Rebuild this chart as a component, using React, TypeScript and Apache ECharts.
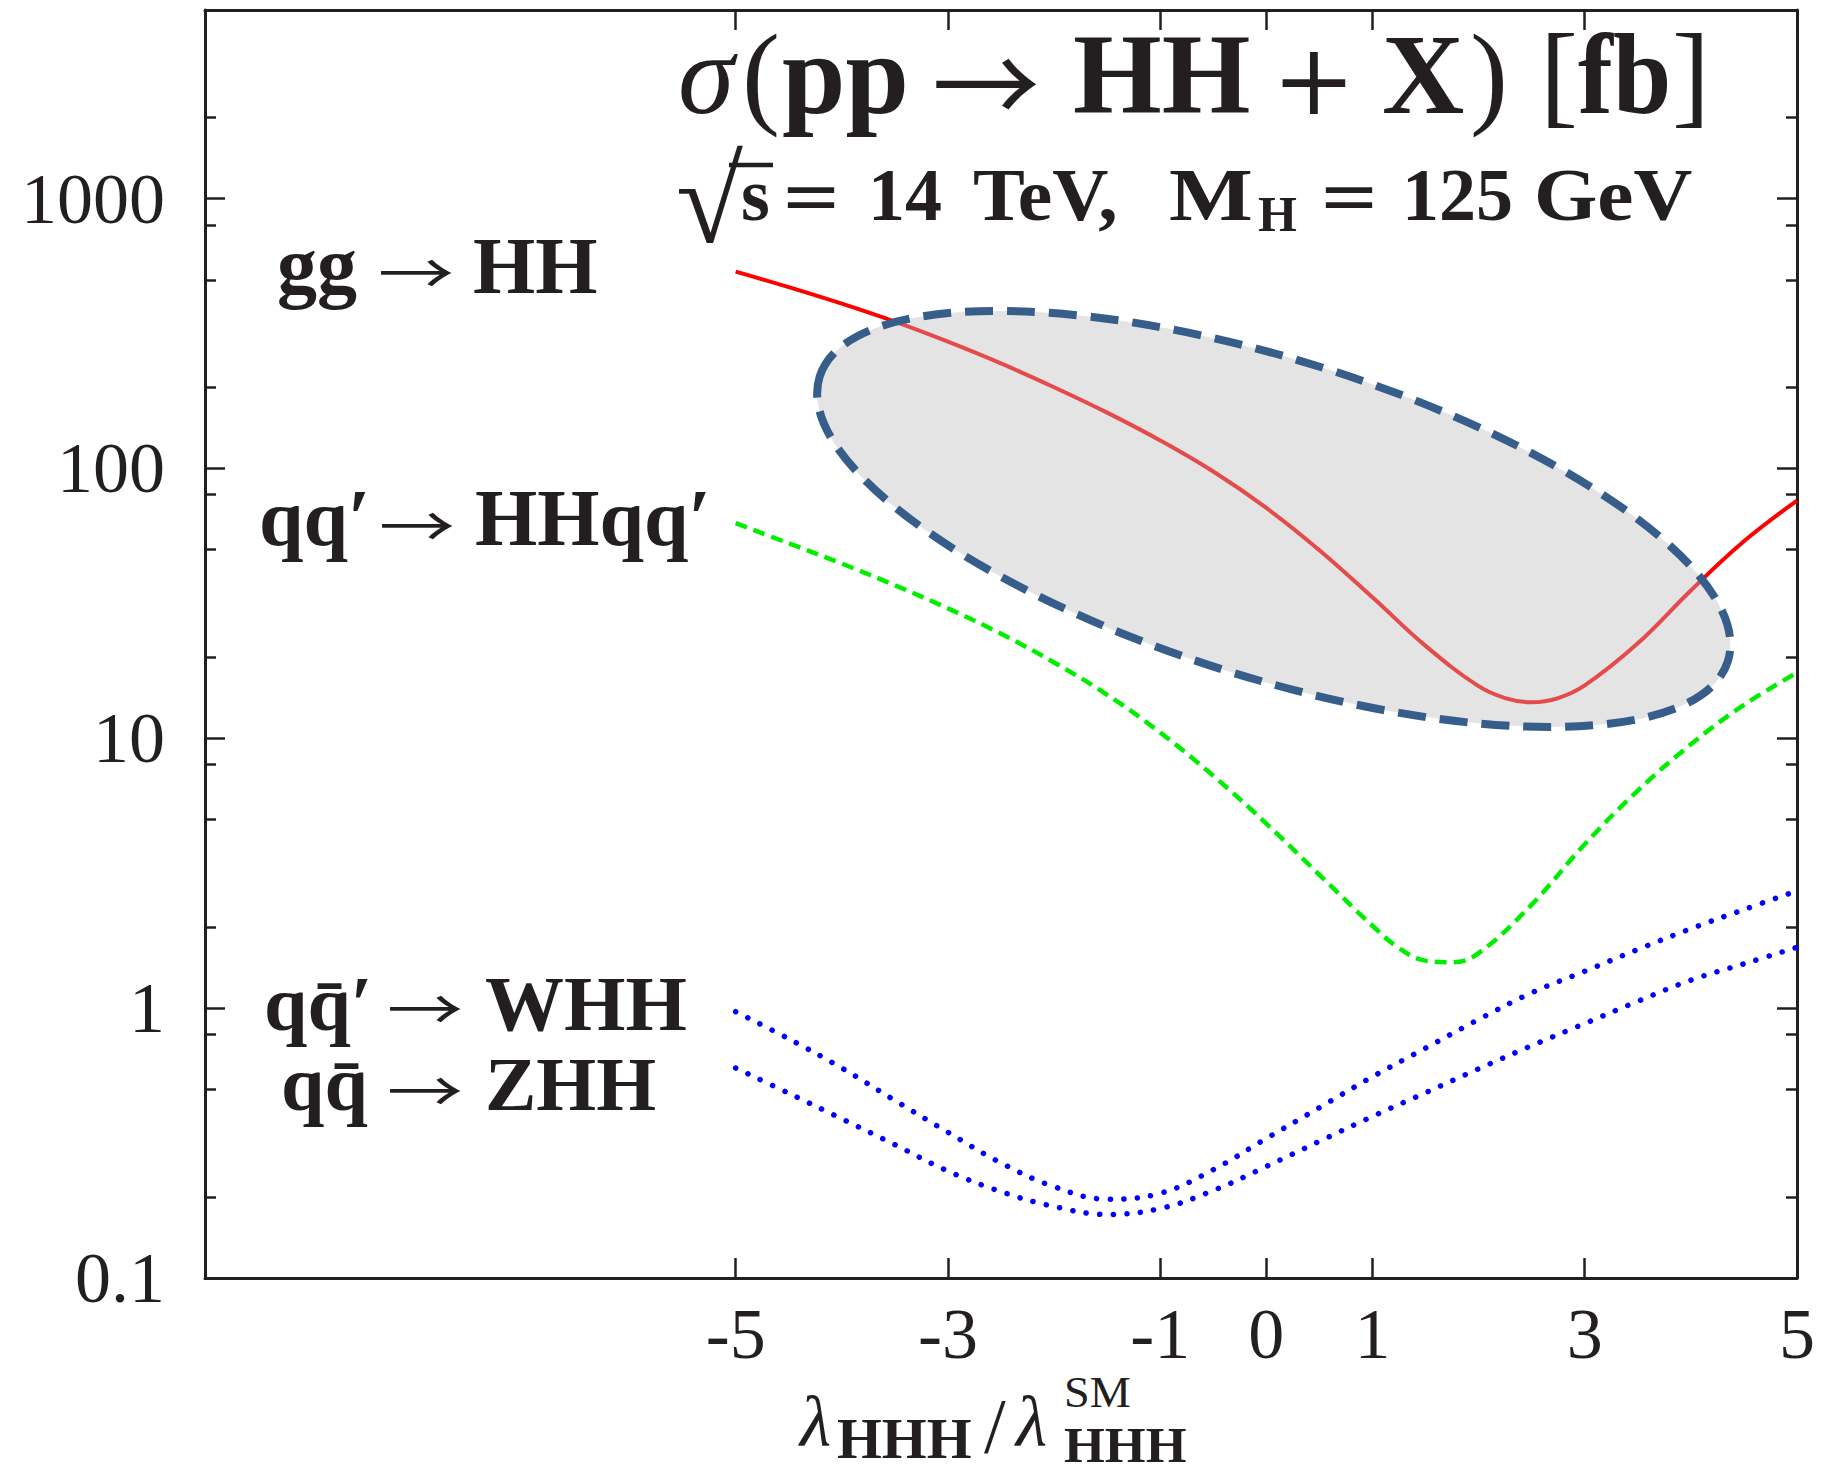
import React, { useEffect, useRef } from 'react';
import * as echarts from 'echarts';

const SERIF = "'Liberation Serif', 'DejaVu Serif', serif";
const SERIF_WIDE = "'DejaVu Serif', serif";
const CJK = "'Noto Sans CJK JP', 'Noto Sans CJK SC', sans-serif";
const INK = '#231f20';

// ---------- axes ----------
const xMin = -10;
const xMax = 5;
const yMin = 0.1;
const yMax = 5000;
const xTickValues = [-5, -3, -1, 0, 1, 3, 5];
const xTickLabels = ['-5', '-3', '-1', '0', '1', '3', '5'];
const yMajorValues = [0.1, 1, 10, 100, 1000];
const yTickLabels = ['0.1', '1', '10', '100', '1000'];
const yMinorValues = [0.2, 0.5, 0.8, 2, 5, 8, 20, 50, 80, 200, 500, 800, 2000, 5000];

// ---------- series (lambda_HHH / lambda_SM , sigma [fb]) ----------
const ggLambda = [-5, -4.5, -4, -3.5, -3, -2.5, -2, -1.5, -1, -0.5, 0, 0.5, 1, 1.5, 2, 2.25, 2.5, 2.75, 3, 3.5, 4, 4.5, 5];
const ggSigma = [536, 470, 408, 350, 295, 245, 200, 161, 127, 97.4, 71.4, 49.8, 33.3, 22.0, 15.6, 14.1, 13.6, 14.1, 15.7, 22.5, 35.3, 53.7, 76];

const vbfLambda = [-5, -4.5, -4, -3.5, -3, -2.5, -2, -1.5, -1, -0.5, 0, 0.5, 1, 1.25, 1.5, 1.75, 2, 2.5, 3, 3.5, 4, 4.5, 5];
const vbfSigma = [62.7, 52.8, 44.4, 36.9, 30.3, 24.4, 19.1, 14.5, 10.5, 7.26, 4.83, 3.12, 2.02, 1.67, 1.5, 1.48, 1.6, 2.42, 4.05, 6.4, 9.5, 13.3, 17.5];

const vhLambda = [-5, -4.5, -4, -3.5, -3, -2.5, -2, -1.5, -1, -0.5, 0, 0.5, 1, 1.5, 2, 2.5, 3, 3.5, 4, 4.5, 5];
const whhSigma = [0.97, 0.77, 0.6, 0.455, 0.347, 0.267, 0.218, 0.196, 0.206, 0.252, 0.329, 0.428, 0.557, 0.711, 0.908, 1.14, 1.37, 1.65, 1.97, 2.32, 2.72];
const zhhSigma = [0.6, 0.484, 0.389, 0.312, 0.249, 0.209, 0.184, 0.172, 0.181, 0.211, 0.259, 0.321, 0.397, 0.486, 0.596, 0.726, 0.877, 1.06, 1.27, 1.46, 1.68];

// highlighted region (centre in data coordinates)
const ellipseCenter = [0.07, 65];

const pairs = (xs: number[], ys: number[]) => xs.map((x, i) => [x, ys[i]]);
const near = (arr: number[], v: number) => arr.findIndex((a) => Math.abs(a - v) < 1e-6);

type Piece = {
  t: string;
  x: number;
  size: number;
  base?: number; // alphabetic baseline
  cy?: number; // explicit y of the element (central line)
  bold?: boolean;
  italic?: boolean;
  font?: string;
  sx?: number;
};

const textEl = (p: Piece, id: string) => ({
  type: 'text',
  id,
  x: p.x,
  y: p.cy !== undefined ? p.cy : (p.base as number) - 0.3375 * p.size,
  scaleX: p.sx || 1,
  z: 30,
  silent: true,
  style: {
    text: p.t,
    fontFamily: p.font || SERIF,
    fontSize: p.size,
    lineHeight: Math.round(p.size * 0.8),
    fontWeight: p.bold ? 'bold' : 'normal',
    fontStyle: p.italic ? 'italic' : 'normal',
    fill: INK,
    align: 'left',
    verticalAlign: 'middle',
  },
});

const titlePieces: Piece[] = [
  { t: 'σ', x: 678, base: 113, size: 114, italic: true },
  { t: '(', x: 742, base: 113, size: 114 },
  { t: 'pp', x: 782, base: 113, size: 114, bold: true },
  { t: '→', x: 932, cy: 78, size: 108, font: CJK },
  { t: 'HH', x: 1073, base: 113, size: 114, bold: true },
  { t: '+', x: 1272, base: 113, size: 100, font: SERIF_WIDE },
  { t: 'X', x: 1382, base: 113, size: 114, bold: true },
  { t: ')', x: 1470, base: 113, size: 114 },
  { t: '[', x: 1540, base: 113, size: 114 },
  { t: 'fb', x: 1578, base: 113, size: 114, bold: true, sx: 0.92 },
  { t: ']', x: 1672, base: 113, size: 114 },
];

const subtitlePieces: Piece[] = [
  { t: '√', x: 676, cy: 200, size: 122 },
  { t: 's', x: 741, base: 220, size: 74, bold: true },
  { t: '=', x: 780, base: 220, size: 74, font: SERIF_WIDE },
  { t: '14', x: 868, base: 220, size: 74, bold: true },
  { t: 'TeV,', x: 973, base: 220, size: 74, bold: true, sx: 1.05 },
  { t: 'M', x: 1169, base: 220, size: 74, bold: true, sx: 1.2 },
  { t: 'H', x: 1258, base: 231, size: 50, bold: true },
  { t: '=', x: 1318, base: 220, size: 74, font: SERIF_WIDE },
  { t: '125', x: 1402, base: 220, size: 74, bold: true },
  { t: 'GeV', x: 1534, base: 220, size: 74, bold: true, sx: 1.1 },
];

const ARROW = 56;
const ARROW_SX = 1.36;
const labelPieces: Piece[] = [
  { t: 'gg', x: 277, base: 293, size: 80, bold: true },
  { t: '→', x: 378, cy: 269, size: ARROW, font: CJK, sx: ARROW_SX },
  { t: 'HH', x: 473, base: 293, size: 80, bold: true },
  { t: 'qq′', x: 259, base: 545, size: 80, bold: true },
  { t: '→', x: 379, cy: 522, size: ARROW, font: CJK, sx: ARROW_SX },
  { t: 'HHqq′', x: 475, base: 545, size: 80, bold: true },
  { t: 'qq̄′', x: 264, base: 1030, size: 78, bold: true },
  { t: '→', x: 387, cy: 1005, size: ARROW, font: CJK, sx: ARROW_SX },
  { t: 'WHH', x: 485, base: 1030, size: 79, bold: true },
  { t: 'qq̄', x: 281, base: 1110, size: 78, bold: true },
  { t: '→', x: 387, cy: 1087, size: ARROW, font: CJK, sx: ARROW_SX },
  { t: 'ZHH', x: 485, base: 1110, size: 77, bold: true },
];

const axisTitlePieces: Piece[] = [
  { t: 'λ', x: 800, base: 1446, size: 72, italic: true },
  { t: 'HHH', x: 837, base: 1458, size: 56, bold: true, sx: 1.03 },
  { t: '/', x: 984, base: 1452, size: 78 },
  { t: 'λ', x: 1016, base: 1446, size: 72, italic: true },
  { t: 'SM', x: 1064, cy: 1392, size: 44, sx: 1.05 },
  { t: 'HHH', x: 1064, cy: 1445, size: 50, bold: true, sx: 1.05 },
];

const GRID = { left: 205, top: 10, width: 1592, height: 1268 };
const LMIN = Math.log10(yMin);
const LMAX = Math.log10(yMax);

const axisLineStyle = { color: INK, width: 3 };
const tickLineStyle = { color: INK, width: 2.5 };

function tickYAxis(position: 'left' | 'right', values: number[], len: number, showLine: boolean, showLabels: boolean) {
  return {
    type: 'value',
    position,
    min: LMIN,
    max: LMAX,
    axisLine: { show: showLine, onZero: false, lineStyle: axisLineStyle },
    axisTick: { show: true, inside: true, length: len, customValues: values.map((v) => Math.log10(v)), lineStyle: tickLineStyle },
    axisLabel: showLabels
      ? {
          show: true,
          customValues: yMajorValues.map((v) => Math.log10(v)),
          margin: 40,
          fontFamily: SERIF,
          fontSize: 72,
          color: INK,
          formatter: (v: number) => {
            const i = near(yMajorValues.map((m) => Math.log10(m)), v);
            return i >= 0 ? yTickLabels[i] : '';
          },
        }
      : { show: false },
    splitLine: { show: false },
    minorTick: { show: false },
  };
}

function tickXAxis(position: 'top' | 'bottom', showLabels: boolean) {
  return {
    type: 'value',
    position,
    min: xMin,
    max: xMax,
    axisLine: { show: true, onZero: false, lineStyle: axisLineStyle },
    axisTick: { show: true, inside: true, length: 20, customValues: xTickValues, lineStyle: tickLineStyle },
    axisLabel: showLabels
      ? {
          show: true,
          customValues: xTickValues,
          margin: 20,
          fontFamily: SERIF,
          fontSize: 72,
          color: INK,
          formatter: (v: number) => {
            const i = near(xTickValues, v);
            return i >= 0 ? xTickLabels[i] : '';
          },
        }
      : { show: false },
    splitLine: { show: false },
  };
}

export default function App() {
  const ref = useRef<HTMLDivElement>(null);

  useEffect(() => {
    if (!ref.current) return;
    const chart = echarts.init(ref.current, undefined, { renderer: 'svg' });

    const lineBase = { type: 'line', xAxisIndex: 0, yAxisIndex: 0, showSymbol: false, symbol: 'none', smooth: 0.4, z: 3 };

    const option: any = {
      animation: false,
      backgroundColor: '#ffffff',
      grid: { ...GRID, containLabel: false },
      xAxis: [tickXAxis('bottom', true), tickXAxis('top', false)],
      yAxis: [
        {
          type: 'log',
          logBase: 10,
          min: yMin,
          max: yMax,
          position: 'left',
          axisLine: { show: false, onZero: false },
          axisTick: { show: false },
          axisLabel: { show: false },
          splitLine: { show: false },
        },
        tickYAxis('left', yMajorValues, 20, true, true),
        tickYAxis('left', yMinorValues, 11, false, false),
        tickYAxis('right', yMajorValues, 20, true, false),
        tickYAxis('right', yMinorValues, 11, false, false),
      ],
      series: [
        {
          ...lineBase,
          name: 'gg → HH',
          data: pairs(ggLambda, ggSigma),
          lineStyle: { color: '#ff0000', width: 4 },
        },
        {
          ...lineBase,
          name: 'qq′ → HHqq′',
          data: pairs(vbfLambda, vbfSigma),
          lineStyle: { color: '#00ee00', width: 4.5, type: [12, 7] },
        },
        {
          ...lineBase,
          name: 'qq̄′ → WHH',
          data: pairs(vhLambda, whhSigma),
          lineStyle: { color: '#0000ff', width: 5.5, type: [0.1, 13.5], cap: 'round' },
        },
        {
          ...lineBase,
          name: 'qq̄ → ZHH',
          data: pairs(vhLambda, zhhSigma),
          lineStyle: { color: '#0000ff', width: 5.5, type: [0.1, 13.5], cap: 'round' },
        },
      ],
    };
    chart.setOption(option);

    const c = chart.convertToPixel({ xAxisIndex: 0, yAxisIndex: 0 }, ellipseCenter) as number[];

    const graphics: any[] = [
      {
        type: 'ellipse',
        id: 'region',
        x: c[0],
        y: c[1],
        rotation: (-17.4 * Math.PI) / 180,
        shape: { cx: 0, cy: 0, rx: 476, ry: 159 },
        style: {
          fill: 'rgba(188,188,188,0.4)',
          stroke: '#375d8a',
          lineWidth: 8,
          lineDash: [28, 14],
        },
        z: 10,
        silent: true,
      },
      // vinculum of the square root over s
      {
        type: 'line',
        id: 'sqrtbar',
        shape: { x1: 729, y1: 165, x2: 773, y2: 165 },
        style: { stroke: INK, lineWidth: 4.5 },
        z: 30,
        silent: true,
      },
    ];
    titlePieces.forEach((p, i) => graphics.push(textEl(p, 'title' + i)));
    subtitlePieces.forEach((p, i) => graphics.push(textEl(p, 'sub' + i)));
    labelPieces.forEach((p, i) => graphics.push(textEl(p, 'lab' + i)));
    axisTitlePieces.forEach((p, i) => graphics.push(textEl(p, 'ax' + i)));

    chart.setOption({ graphic: graphics });

    return () => chart.dispose();
  }, []);

  return (
    <div
      ref={ref}
      style={{ position: 'absolute', left: 0, top: 0, width: 1830, height: 1473, background: '#fff' }}
    />
  );
}
